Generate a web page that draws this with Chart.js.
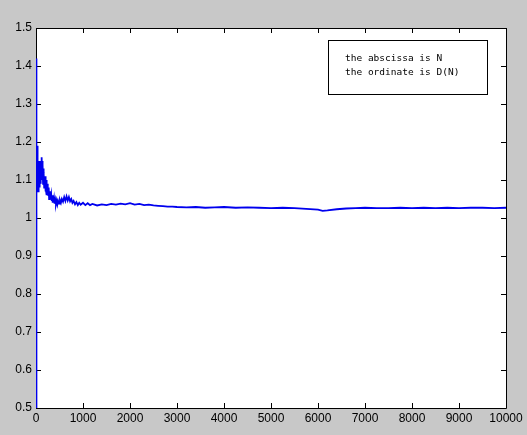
<!DOCTYPE html>
<html>
<head>
<meta charset="utf-8">
<script src="https://cdn.jsdelivr.net/npm/chart.js@4/dist/chart.umd.min.js"></script>
<style>
  body { margin: 0; background: #c8c8c8; }
  canvas { display: block; }
</style>
</head>
<body>
<canvas id="myChart" width="527" height="435"></canvas>
<script>
// N values (abscissa) and D(N) values (ordinate)
var nVals = [1,2,3,4,5,6,7,8,9,10,12,14,16,18,20,23,26,29,32,35,38,42,46,50,54,58,62,66,70,75,80,85,90,95,100,105,110,115,120,125,130,135,140,145,150,156,162,168,174,180,187,194,201,208,215,222,230,238,246,254,262,270,279,288,297,306,315,325,335,345,355,365,375,385,395,410,425,440,455,470,490,510,530,550,575,600,625,650,675,700,725,750,775,800,830,860,890,920,950,1000,1050,1100,1150,1200,1300,1400,1500,1600,1700,1800,1900,2000,2100,2200,2300,2400,2500,2600,2700,2800,2900,3000,3200,3400,3600,3800,4000,4250,4500,4750,5000,5250,5500,5750,6000,6100,6200,6400,6600,6800,7000,7250,7500,7750,8000,8250,8500,8750,9000,9250,9500,9750,10000]
var dVals = [0.5,1.42,1.1,1.25,1.06,1.22,1.08,1.2,1.05,1.18,1.07,1.21,1.09,1.17,1.06,1.19,1.08,1.14,1.07,1.16,1.09,1.13,1.07,1.15,1.10,1.13,1.08,1.14,1.09,1.12,1.08,1.15,1.10,1.14,1.09,1.15,1.11,1.16,1.12,1.16,1.11,1.15,1.10,1.14,1.09,1.13,1.09,1.12,1.08,1.11,1.08,1.11,1.07,1.10,1.07,1.10,1.06,1.09,1.06,1.08,1.06,1.08,1.05,1.07,1.05,1.07,1.05,1.06,1.045,1.06,1.04,1.055,1.04,1.05,1.038,1.048,1.037,1.046,1.036,1.045,1.038,1.047,1.04,1.05,1.043,1.055,1.045,1.057,1.046,1.055,1.044,1.05,1.04,1.045,1.036,1.042,1.034,1.04,1.035,1.04,1.034,1.039,1.034,1.037,1.033,1.036,1.034,1.037,1.035,1.038,1.036,1.039,1.035,1.037,1.034,1.035,1.033,1.032,1.031,1.030,1.030,1.029,1.028,1.029,1.027,1.028,1.029,1.027,1.028,1.027,1.026,1.027,1.026,1.024,1.022,1.019,1.020,1.023,1.025,1.026,1.027,1.026,1.026,1.027,1.026,1.027,1.026,1.027,1.026,1.027,1.027,1.026,1.027]

var xMin = 0, xMax = 10000, xStep = 1000
var yMin = 0.5, yMax = 1.5, yStep = 0.1
var legendLines = ['the abscissa is N', 'the ordinate is D(N)']

var points = nVals.map(function (n, i) { return { x: n, y: dVals[i] } })

var frame = {
  id: 'frame',
  beforeDraw: function (chart) {
    var ctx = chart.ctx, a = chart.chartArea
    ctx.save()
    ctx.fillStyle = '#c8c8c8'
    ctx.fillRect(0, 0, chart.width, chart.height)
    ctx.fillStyle = '#ffffff'
    ctx.fillRect(a.left, a.top, a.right - a.left, a.bottom - a.top)
    ctx.restore()
  },
  // axes box + inward ticks go under the line, like matlab
  beforeDatasetsDraw: function (chart) {
    var ctx = chart.ctx, a = chart.chartArea
    var xs = chart.scales.x, ys = chart.scales.y
    ctx.save()
    ctx.strokeStyle = '#000'
    ctx.lineWidth = 1
    ctx.beginPath()
    ctx.rect(a.left + 0.5, a.top + 0.5, a.right - a.left, a.bottom - a.top)
    xs.ticks.forEach(function (t) {
      var px = Math.round(xs.getPixelForValue(t.value)) + 0.5
      ctx.moveTo(px, a.bottom); ctx.lineTo(px, a.bottom - 5)
      ctx.moveTo(px, a.top); ctx.lineTo(px, a.top + 5)
    })
    ys.ticks.forEach(function (t) {
      var py = Math.round(ys.getPixelForValue(t.value)) + 0.5
      ctx.moveTo(a.left, py); ctx.lineTo(a.left + 5, py)
      ctx.moveTo(a.right, py); ctx.lineTo(a.right - 5, py)
    })
    ctx.stroke()
    ctx.restore()
  },
  afterDraw: function (chart) {
    var ctx = chart.ctx
    ctx.save()
    // text box in the upper right
    var bx = 328.5, by = 40.5, bw = 159, bh = 54
    ctx.fillStyle = '#fff'
    ctx.fillRect(bx, by, bw, bh)
    ctx.strokeStyle = '#000'
    ctx.lineWidth = 1
    ctx.strokeRect(bx, by, bw, bh)
    ctx.fillStyle = '#000'
    ctx.font = '9.5px "DejaVu Sans Mono"'
    ctx.textBaseline = 'middle'
    ctx.fillText(legendLines[0], 345, 59)
    ctx.fillText(legendLines[1], 345, 73)
    ctx.restore()
  }
}

var ctx = document.getElementById('myChart')
var myChart = new Chart(ctx, {
  type: 'line',
  data: {
    datasets: [{
      data: points,
      borderColor: '#0000ee',
      borderWidth: 1.8,
      pointRadius: 0,
      tension: 0,
      fill: false
    }]
  },
  options: {
    responsive: false,
    animation: false,
    layout: { padding: { top: 28, right: 21, left: 0, bottom: 0 } },
    plugins: { legend: { display: false }, tooltip: { enabled: false } },
    scales: {
      x: {
        type: 'linear',
        min: xMin, max: xMax,
        grid: { display: false, drawTicks: false },
        border: { display: false },
        afterFit: function (s) { s.height = 27 },
        ticks: {
          stepSize: xStep, color: '#000', padding: 3, maxRotation: 0,
          font: { family: 'Liberation Sans', size: 12 },
          callback: function (v) { return String(v) }
        }
      },
      y: {
        min: yMin, max: yMax,
        grid: { display: false, drawTicks: false },
        border: { display: false },
        afterFit: function (s) { s.width = 36 },
        ticks: {
          stepSize: yStep, color: '#000', padding: 4,
          font: { family: 'Liberation Sans', size: 12 },
          callback: function (v) { return String(Math.round(v * 10) / 10) }
        }
      }
    }
  },
  plugins: [frame]
})
</script>
</body>
</html>
